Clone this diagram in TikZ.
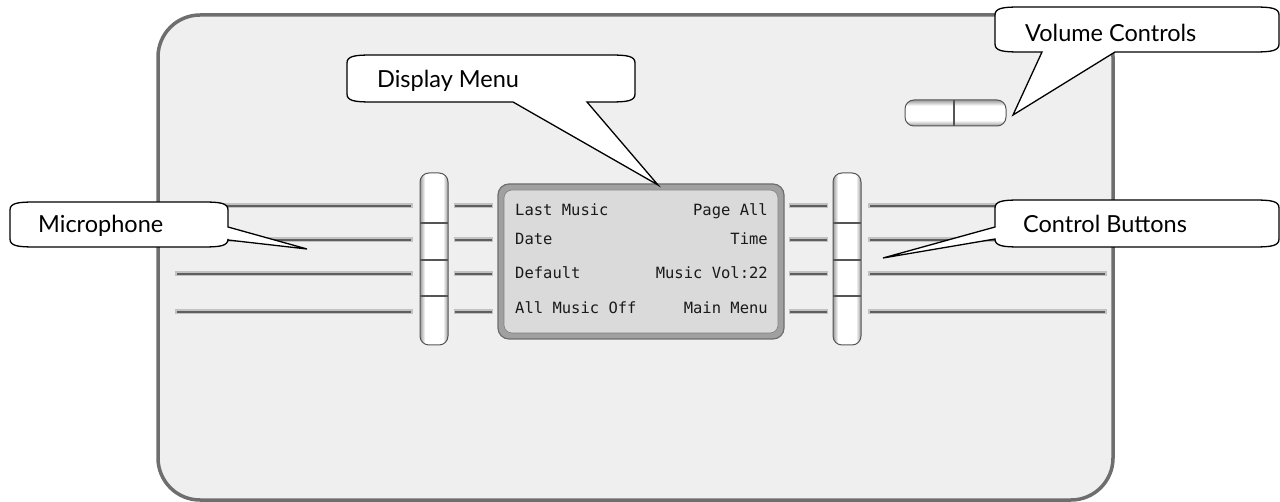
\documentclass[tikz,border=0pt]{standalone}
\usepackage{fontspec}
\setmainfont{Lato}
\newfontfamily\lcdfont{DejaVu Sans Mono}
\definecolor{panelfill}{HTML}{EFEFEF}
\definecolor{panelline}{HTML}{6E6E6E}
\definecolor{bandgray}{HTML}{C2C2C2}
\definecolor{coregray}{HTML}{5E5E5E}
\definecolor{lcdfill}{HTML}{DADADA}
\definecolor{lcdframe}{HTML}{A0A0A0}
\definecolor{btnedge}{HTML}{9A9A9A}
\definecolor{btnline}{HTML}{555555}
\definecolor{lcdtext}{HTML}{1A1A1A}
\pgfdeclarehorizontalshading{vcyl}{100bp}{color(0bp)=(btnedge); color(25bp)=(btnedge); color(34bp)=(white); color(66bp)=(white); color(75bp)=(btnedge); color(100bp)=(btnedge)}
\pgfdeclareverticalshading{hcyl}{100bp}{color(0bp)=(btnedge); color(25bp)=(btnedge); color(36bp)=(white); color(64bp)=(white); color(75bp)=(btnedge); color(100bp)=(btnedge)}
\newcommand{\calloutpath}[8]{%
  \draw[calloutshape] ({#1+25},#2) #5 -- ({#3-25},#2) .. controls ({#3-8},#2) and (#3,{#2+1}) .. (#3,{#2+8}) #6
    -- (#3,{#4-8}) .. controls (#3,{#4-1}) and ({#3-8},#4) .. ({#3-25},#4) #7
    -- ({#1+25},#4) .. controls ({#1+8},#4) and (#1,{#4-1}) .. (#1,{#4-8}) #8
    -- (#1,{#2+8}) .. controls (#1,{#2+1}) and ({#1+8},#2) .. ({#1+25},#2) -- cycle;}
\tikzset{
  calloutshape/.style={draw=black, line width=1.3pt, fill=white, line join=miter},
  callouttext/.style={font=\fontsize{23.5}{25}\selectfont, text=black, anchor=base west, inner sep=0pt},
  lcdtxt/.style={font=\lcdfont\fontsize{15.5}{17}\selectfont, text=lcdtext, inner sep=0pt},
  bandline/.style={line width=5pt, draw=bandgray},
  coreline/.style={line width=1.3pt, draw=coregray},
  vbtn/.style={draw=btnline, line width=1pt, rounded corners=9pt, shading=vcyl},
  hbtn/.style={draw=btnline, line width=1pt, rounded corners=9pt, shading=hcyl},
  divider/.style={draw=btnline, line width=1.2pt}
}
\begin{document}
\begin{tikzpicture}[x=1pt,y=-1pt]
\useasboundingbox (0,0) rectangle (1280,502);
% panel
\draw[fill=panelfill, draw=panelline, line width=3.5pt, rounded corners=42pt] (158,15) rectangle (1113,500);
% horizontal lines
\foreach \yy in {206,240,274,312}{
  \draw[bandline] (175,\yy) -- (413,\yy);
  \draw[coreline] (177,\yy) -- (411,\yy);
  \draw[bandline] (454,\yy) -- (493,\yy);
  \draw[coreline] (455,\yy) -- (492,\yy);
  \draw[bandline] (789,\yy) -- (828,\yy);
  \draw[coreline] (790,\yy) -- (827,\yy);
  \draw[bandline] (868,\yy) -- (1107,\yy);
  \draw[coreline] (870,\yy) -- (1105,\yy);
}
% left button column
\path[vbtn] (420,173) rectangle (448,345);
\coordinate (lb1l) at (420,223); \coordinate (lb1r) at (448,223);
\coordinate (lb2l) at (420,260); \coordinate (lb2r) at (448,260);
\coordinate (lb3l) at (420,296); \coordinate (lb3r) at (448,296);
\draw[divider] (lb1l) -- (lb1r);
\draw[divider] (lb2l) -- (lb2r);
\draw[divider] (lb3l) -- (lb3r);
% right button column
\path[vbtn] (833,173) rectangle (861,345);
\coordinate (rb1l) at (833,223); \coordinate (rb1r) at (861,223);
\coordinate (rb2l) at (833,260); \coordinate (rb2r) at (861,260);
\coordinate (rb3l) at (833,296); \coordinate (rb3r) at (861,296);
\draw[divider] (rb1l) -- (rb1r);
\draw[divider] (rb2l) -- (rb2r);
\draw[divider] (rb3l) -- (rb3r);
% display
\draw[fill=lcdframe, draw=panelline, line width=1.2pt, rounded corners=11pt] (498,184) rectangle (784,339);
\draw[fill=lcdfill, draw=lcdframe!80!black, line width=0.6pt, rounded corners=8pt] (504,190) rectangle (778,333);
\node[lcdtxt, anchor=base west] (t1) at (515,216) {Last Music};
\node[lcdtxt, anchor=base east] (t2) at (768,216) {Page All};
\node[lcdtxt, anchor=base west] (t3) at (515,245) {Date};
\node[lcdtxt, anchor=base east] (t4) at (768,245) {Time};
\node[lcdtxt, anchor=base west] (t5) at (515,279) {Default};
\node[lcdtxt, anchor=base east] (t6) at (768,279) {Music Vol:22};
\node[lcdtxt, anchor=base west] (t7) at (515,314) {All Music Off};
\node[lcdtxt, anchor=base east] (t8) at (768,314) {Main Menu};
% volume controls
\path[hbtn] (905,100) rectangle (1006,126);
\coordinate (vdt) at (954,100); \coordinate (vdb) at (954,126);
\draw[divider] (vdt) -- (vdb);
% callouts
\coordinate (dmtip) at (658,185);
\coordinate (vctip) at (1013,115);
\coordinate (mictip) at (307,249);
\coordinate (cbtip) at (883,258);
\calloutpath{347}{55}{635}{102}{}{}{-- (587,102) -- (dmtip) -- (513,102)}{}
\calloutpath{995}{7}{1279}{52}{}{}{-- (1115,52) -- (vctip) -- (1042,52)}{}
\calloutpath{10}{202}{228}{247}{}{-- (228,227) -- (mictip) -- (228,240)}{}{}
\calloutpath{995}{200}{1279}{247}{}{}{}{-- (995,239) -- (cbtip) -- (995,227)}
\node[callouttext] (dm) at (377,88) {Display Menu};
\node[callouttext] (vc) at (1025,42) {Volume Controls};
\node[callouttext] (mic) at (38,233) {Microphone};
\node[callouttext] (cb) at (1023,233) {Control Buttons};
\end{tikzpicture}
\end{document}
